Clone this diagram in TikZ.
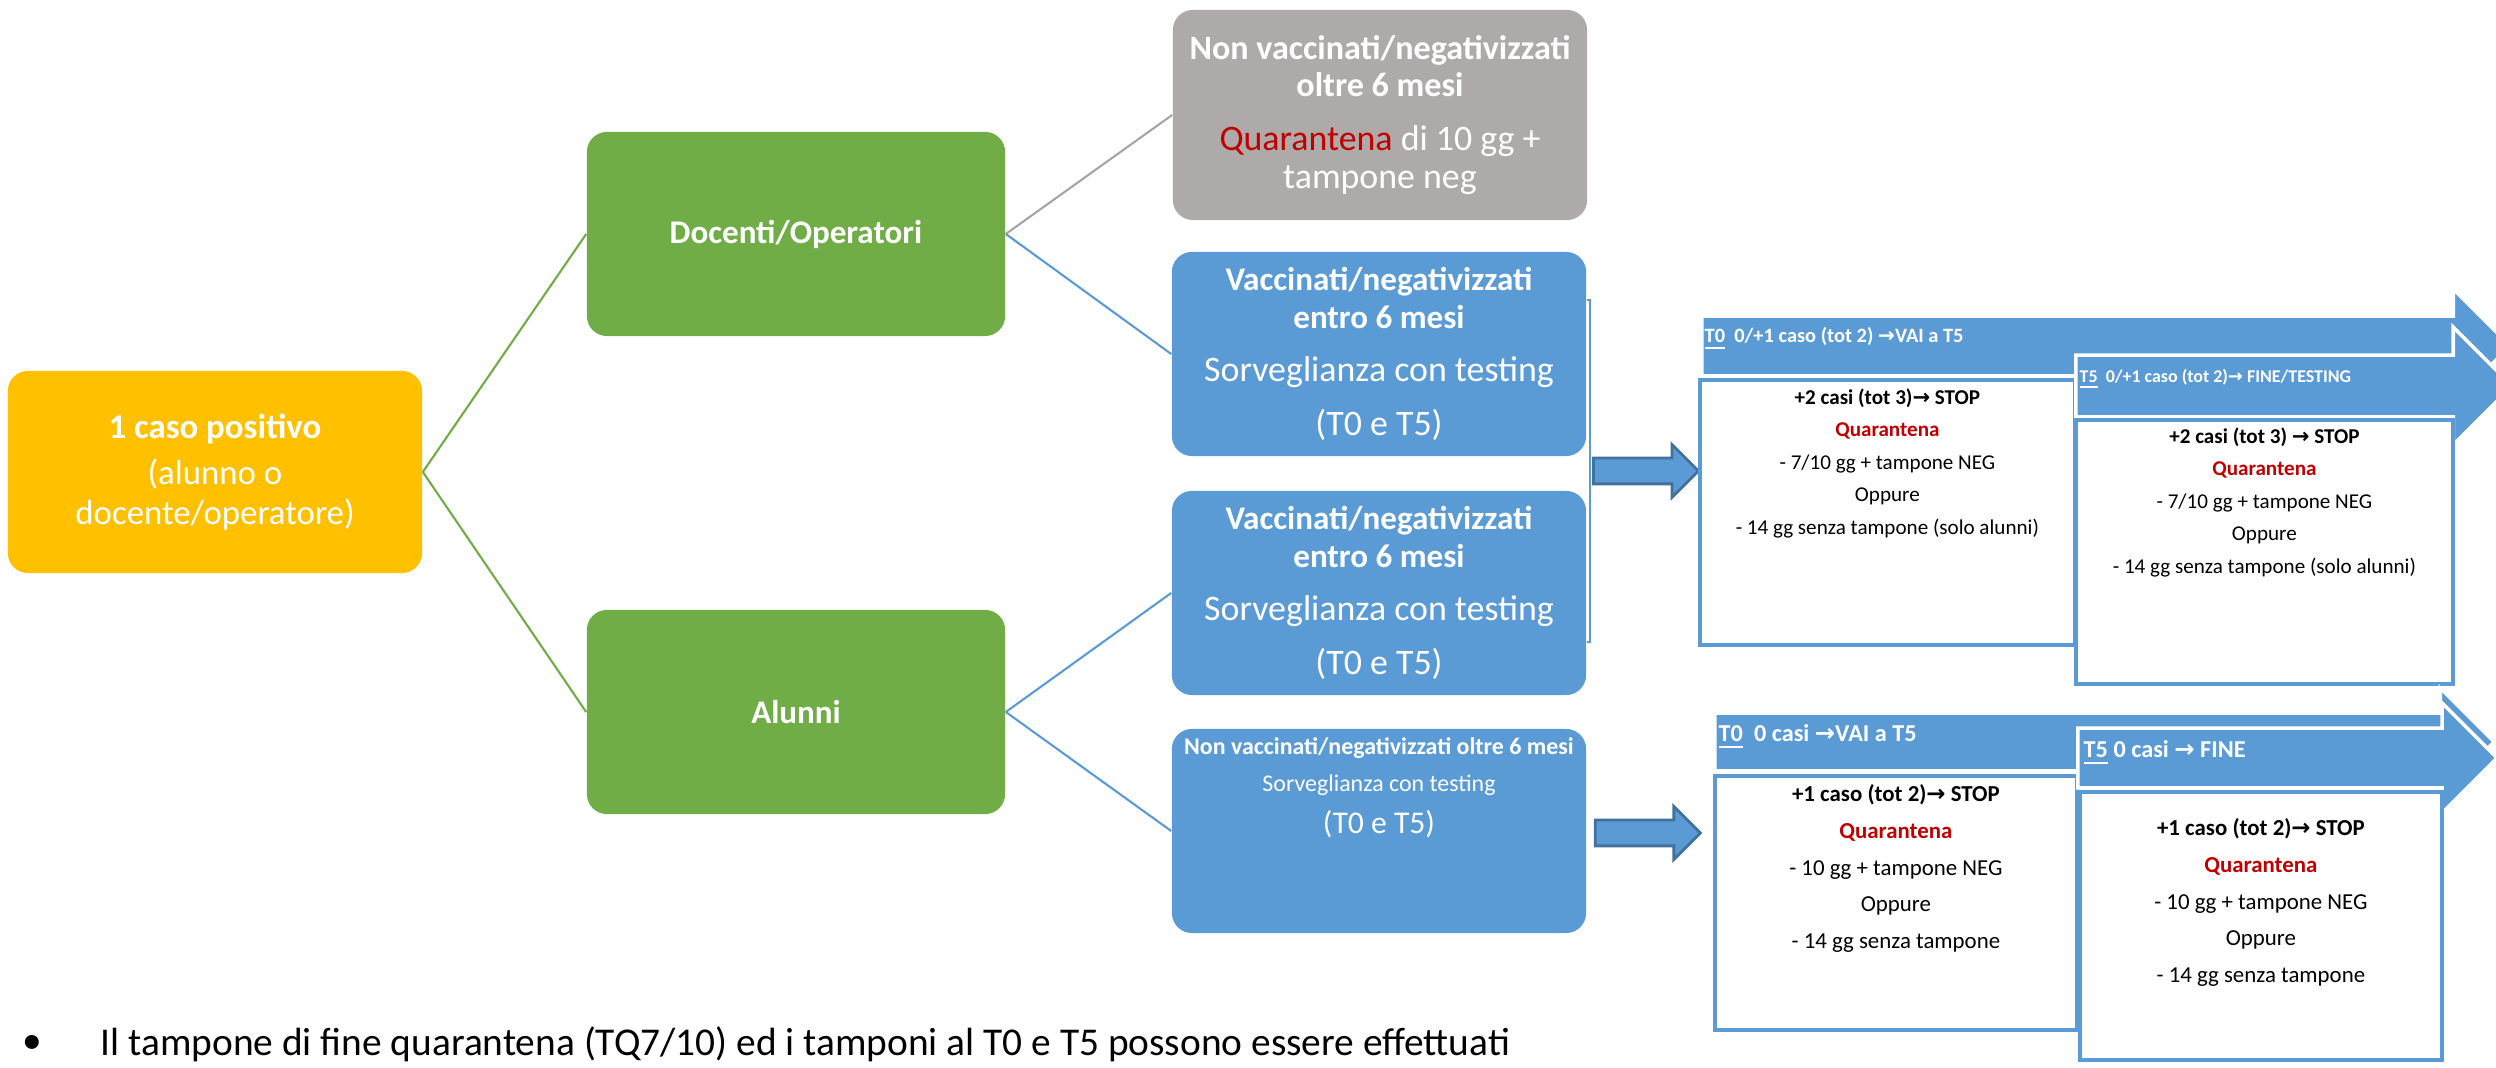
\documentclass[tikz,border=0pt]{standalone}
\usepackage{fontspec}
\setmainfont{Carlito}
\newfontfamily\symfont{DejaVu Sans}
\usetikzlibrary{positioning, shapes.arrows, calc}

\definecolor{caseyellow}{HTML}{FFC000}
\definecolor{groupgreen}{HTML}{70AD47}
\definecolor{testblue}{HTML}{5B9BD5}
\definecolor{arrowedge}{HTML}{41719C}
\definecolor{greybox}{HTML}{AEAAAA}
\definecolor{greyline}{HTML}{A5A5A5}
\definecolor{quarred}{HTML}{C00000}

\newcommand{\rarr}{{\symfont →}}
\newcommand{\bigreg}{\fontsize{10.2}{10.8}\selectfont}

\begin{document}
\begin{tikzpicture}[
    x=0.01cm, y=-0.01cm,
    roundbox/.style={rectangle, rounded corners=0.2cm, align=center, text=white, inner sep=0pt},
    groupbox/.style={roundbox, fill=groupgreen, minimum width=4.18cm, minimum height=2.04cm, font=\fontsize{9.4}{10.8}\selectfont\bfseries},
    optbox/.style={roundbox, minimum width=4.14cm, minimum height=2.04cm},
    stepbox/.style={rectangle, draw=testblue, line width=1pt, fill=white, anchor=north west, inner sep=0pt},
    steptext/.style={align=center, inner sep=0pt, anchor=north},
    banner/.style={single arrow, fill=testblue, draw=white, line width=1pt, inner xsep=0pt, anchor=tail},
    bannertext/.style={anchor=west, text=white, inner sep=0pt},
    blockarr/.style={single arrow, fill=testblue, draw=arrowedge, line width=0.8pt, inner xsep=0pt, inner ysep=0.115cm, single arrow head extend=0.135cm, minimum height=1.05cm, anchor=tail},
    link/.style={line width=0.6pt},
]

% slide frame
\useasboundingbox (0,0) rectangle (2496,1068);

% Starting case
\node[roundbox, fill=caseyellow, minimum width=4.14cm, minimum height=2.02cm, font=\fontsize{9.9}{11.2}\selectfont] (case) at (215,472)
  {\textbf{1 caso positivo}\\[1.9pt](alunno o\\docente/operatore)};

% Groups
\node[groupbox] (doc) at (796,234) {Docenti/Operatori};
\node[groupbox] (alu) at (796,712) {Alunni};

% Options per group
\node[optbox, fill=greybox, minimum height=2.10cm, font=\fontsize{9.7}{10.8}\selectfont] (grey) at (1380,115)
  {\textbf{Non vaccinati/negativizzati}\\\textbf{oltre 6 mesi}\\[4.5pt]{\bigreg\textcolor{quarred}{Quarantena} di 10 gg +}\\{\bigreg tampone neg}};
\node[optbox, fill=testblue, font=\fontsize{9.4}{10.8}\selectfont] (vac1) at (1379,354)
  {\textbf{Vaccinati/negativizzati}\\\textbf{entro 6 mesi}\\[4.3pt]{\bigreg Sorveglianza con testing}\\[4.6pt]{\bigreg (T0 e T5)}};
\node[optbox, fill=testblue, font=\fontsize{9.4}{10.8}\selectfont] (vac2) at (1379,593)
  {\textbf{Vaccinati/negativizzati}\\\textbf{entro 6 mesi}\\[4.3pt]{\bigreg Sorveglianza con testing}\\[4.6pt]{\bigreg (T0 e T5)}};
\node[optbox, fill=testblue] (nonvac) at (1379,831) {};
\node[steptext, text=white, font=\fontsize{6.8}{10.5}\selectfont] (nonvactext) at ($(nonvac.north)+(0,9)$)
  {\textbf{Non vaccinati/negativizzati oltre 6 mesi}\\Sorveglianza con testing\\[1.5pt]{\fontsize{9}{10.5}\selectfont (T0 e T5)}};

% Tree links
\draw[link, groupgreen] (case.east) -- (doc.west);
\draw[link, groupgreen] (case.east) -- (alu.west);
\draw[link, greyline] (doc.east) -- (grey.west);
\draw[link, testblue] (doc.east) -- (vac1.west);
\draw[link, testblue] (alu.east) -- (vac2.west);
\draw[link, testblue] (alu.east) -- (nonvac.west);

% Bracket round the vaccinated boxes
\coordinate (brtop) at (1590,300);
\coordinate (brbot) at (1590,642);
\coordinate (brmid) at ($(brtop)!0.5!(brbot)$);
\draw[link, testblue, line width=0.8pt] (brtop -| vac1.east) -- (brtop) -- (brbot) -- (brbot -| vac2.east);

% Block arrows to the testing steps
\node[blockarr] (arrvac) at ($(brmid)+(2,0)$) {};
\node[blockarr] (arrnon) at ($(nonvac.east)+(7,2)$) {};

% Testing steps, vaccinated
\node[banner, minimum height=8.08cm, inner ysep=0.28cm, single arrow head extend=0.27cm] (hdrvac0) at (1700,346) {};
\node[bannertext, font=\fontsize{5.8}{6.4}\selectfont\bfseries] (hdrvac0text) at ($(hdrvac0.tail)+(4,-7)$)
  {\underline{T0}~~0/+1 caso (tot 2) \rarr VAI a T5};
\node[stepbox, minimum width=3.75cm, minimum height=2.65cm] (boxvac0) at (1698,378) {};
\node[steptext, font=\fontsize{6}{9.25}\selectfont] (boxvac0text) at ($(boxvac0.north)+(0,10)$)
  {\textbf{+2 casi (tot 3)\rarr{} STOP}\\\textbf{\textcolor{quarred}{Quarantena}}\\- 7/10 gg + tampone NEG\\Oppure\\- 14 gg senza tampone (solo alunni)};

\node[banner, minimum height=4.36cm, inner ysep=0.29cm, single arrow head extend=0.28cm] (hdrvac5) at (2074,386) {};
\node[bannertext, font=\fontsize{5.1}{5.6}\selectfont\bfseries] (hdrvac5text) at ($(hdrvac5.tail)+(5,-7)$)
  {\underline{T5}~~0/+1 caso (tot 2)\rarr{} FINE/TESTING};
\node[stepbox, minimum width=3.77cm, minimum height=2.64cm] (boxvac5) at (2074,418) {};
\node[steptext, font=\fontsize{6}{9.25}\selectfont] (boxvac5text) at ($(boxvac5.north)+(0,9)$)
  {\textbf{+2 casi (tot 3) \rarr{} STOP}\\\textbf{\textcolor{quarred}{Quarantena}}\\- 7/10 gg + tampone NEG\\Oppure\\- 14 gg senza tampone (solo alunni)};

% Testing steps, not vaccinated
\node[banner, minimum height=7.79cm, inner ysep=0.27cm, single arrow head extend=0.25cm] (hdrnon0) at (1713,742) {};
\node[bannertext, font=\fontsize{6.9}{7.5}\selectfont\bfseries] (hdrnon0text) at ($(hdrnon0.tail)+(5,-5)$)
  {\underline{T0}~~0 casi \rarr VAI a T5};
\node[stepbox, minimum width=3.62cm, minimum height=2.54cm] (boxnon0) at (1713,774) {};
\node[steptext, font=\fontsize{6.5}{10.45}\selectfont] (boxnon0text) at ($(boxnon0.north)+(0,10)$)
  {\textbf{+1 caso (tot 2)\rarr{} STOP}\\\textbf{\textcolor{quarred}{Quarantena}}\\- 10 gg + tampone NEG\\Oppure\\- 14 gg senza tampone};

\node[banner, minimum height=4.19cm, inner ysep=0.28cm, single arrow head extend=0.25cm] (hdrnon5) at (2076,758) {};
\node[bannertext, font=\fontsize{6.9}{7.5}\selectfont\bfseries] (hdrnon5text) at ($(hdrnon5.tail)+(7,-5)$)
  {\underline{T5} 0 casi \rarr{} FINE};
\node[stepbox, minimum width=3.62cm, minimum height=2.68cm] (boxnon5) at (2078,790) {};
\node[steptext, font=\fontsize{6.5}{10.45}\selectfont] (boxnon5text) at ($(boxnon5.north)+(0,28)$)
  {\textbf{+1 caso (tot 2)\rarr{} STOP}\\\textbf{\textcolor{quarred}{Quarantena}}\\- 10 gg + tampone NEG\\Oppure\\- 14 gg senza tampone};

% Note
\node[font=\fontsize{11.2}{13}\selectfont, inner sep=0pt] (bullet) at (32,1044) {\textbullet};
\node[anchor=west, font=\fontsize{11.2}{13}\selectfont, inner sep=0pt] (note) at (100,1044)
  {Il tampone di fine quarantena (TQ7/10) ed i tamponi al T0 e T5 possono essere effettuati};

\end{tikzpicture}
\end{document}
